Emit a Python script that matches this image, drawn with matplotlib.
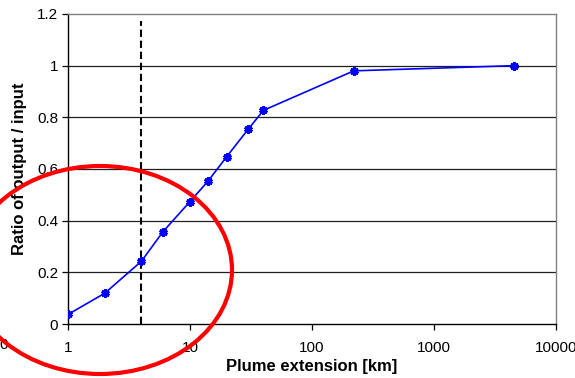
import numpy as np
import matplotlib.pyplot as plt
from matplotlib.patches import Ellipse

plt.rcParams['font.family'] = ['Liberation Sans', 'DejaVu Sans']

# plume extension [km] and ratio of output / input
extension_km = [1, 2, 4, 6, 10, 14, 20, 30, 40, 220, 4500]
ratio = [0.037, 0.119, 0.243, 0.357, 0.474, 0.552, 0.648, 0.754, 0.827, 0.98, 1.0]
cutoff_km = 4
x_ticks = [1, 10, 100, 1000, 10000]
x_tick_labels = ['1', '10', '100', '1000', '10000']
y_ticks = [0, 0.2, 0.4, 0.6, 0.8, 1.0, 1.2]
y_tick_labels = ['0', '0.2', '0.4', '0.6', '0.8', '1', '1.2']

W, H = 575, 378
fig = plt.figure(figsize=(W / 100, H / 100), dpi=100)
ax = fig.add_axes([68 / W, 1 - 324 / H, (556 - 68) / W, (324 - 14) / H])

ax.set_xscale('log')
ax.set_xlim(1, 10000)
ax.set_ylim(0, 1.2)

# horizontal grid lines
for yv in y_ticks[1:-1]:
    ax.axhline(yv, color='#202020', lw=0.9, zorder=1)

ax.plot(extension_km, ratio, color='#0000ff', lw=1.2, marker=(6, 2, 0),
        markersize=6, markeredgewidth=2.2, markeredgecolor='#0000ff', zorder=3)
ax.plot(extension_km, ratio, ls='none', marker='o', markersize=3.5,
        color='#0000ff', zorder=3)

# cut-off line
ax.axvline(cutoff_km, ymax=(324 - 21) / 310, color='black', lw=1.5,
           ls=(0, (3.5, 1.8)), zorder=2)

ax.set_xticks(x_ticks)
ax.set_xticklabels(x_tick_labels)
ax.xaxis.set_minor_locator(plt.NullLocator())
ax.set_yticks(y_ticks)
ax.set_yticklabels(y_tick_labels)
ax.tick_params(axis='both', direction='out', length=4, width=0.9,
               labelsize=11, colors='black')
ax.tick_params(axis='x', pad=8)
ax.tick_params(axis='y', pad=3)

for s in ['left', 'bottom']:
    ax.spines[s].set_color('black')
    ax.spines[s].set_linewidth(1.0)
for s in ['top', 'right']:
    ax.spines[s].set_color('#808080')
    ax.spines[s].set_linewidth(1.0)

ax.set_xlabel('Plume extension [km]', fontsize=12, fontweight='bold', labelpad=3)
ax.set_ylabel('Ratio of output / input', fontsize=12, fontweight='bold', labelpad=7)

fig.text(4 / W, 1 - 345 / H, '0', fontsize=11, ha='center', va='center')

# red ring around the low-extension region
ring = Ellipse((100 / W, 1 - 270 / H), 264 / W, 208 / H, transform=fig.transFigure,
               fill=False, edgecolor='#ff0000', lw=3.0, zorder=10)
fig.patches.append(ring)

fig.savefig('out.png', dpi=100)
